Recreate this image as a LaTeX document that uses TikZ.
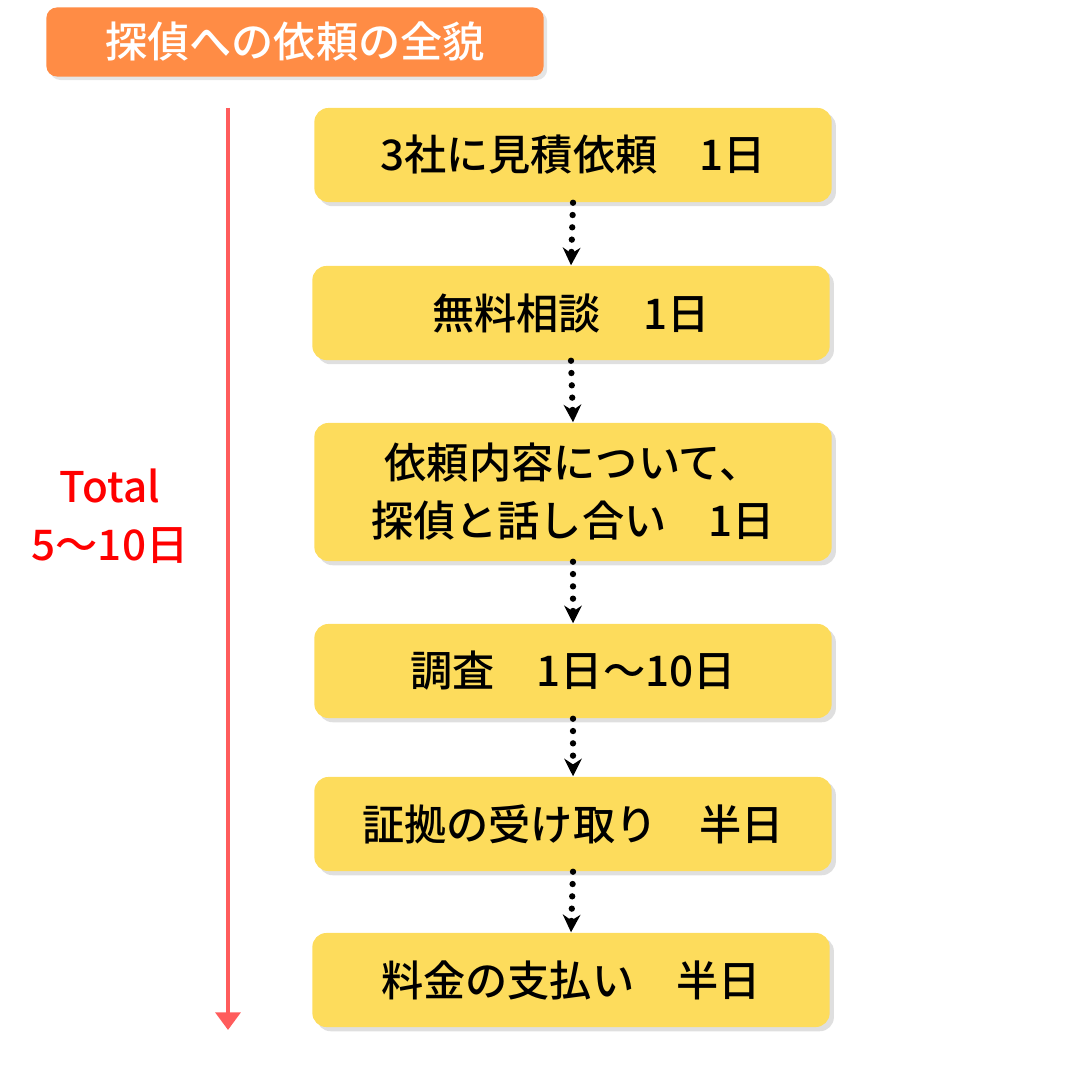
\documentclass[tikz,border=0pt]{standalone}
\usepackage{fontspec}
\setmainfont{Noto Sans CJK JP}[BoldFont={Noto Sans CJK JP Medium}]
\usetikzlibrary{
    arrows.meta,
    positioning,
    shadows
}
\definecolor{boxyellow}{HTML}{FDDC5C}
\definecolor{titleorange}{HTML}{FF8C45}
\definecolor{lineRed}{HTML}{FF5C5C}

\begin{document}
\begin{tikzpicture}[
    x=0.01cm, y=-0.01cm,
    stepbox/.style   = {rectangle, rounded corners=4pt, fill=boxyellow,
                        minimum width=5.17cm, minimum height=0.94cm,
                        font=\fontsize{12}{16.5}\selectfont\bfseries, align=center,
                        drop shadow={shadow xshift=1.2pt, shadow yshift=-1.2pt,
                                     fill=black!25}},
    titlebox/.style  = {rectangle, rounded corners=3pt, fill=titleorange,
                        text=white, minimum width=4.97cm, minimum height=0.69cm,
                        font=\fontsize{12}{14}\selectfont\bfseries,
                        drop shadow={shadow xshift=1pt, shadow yshift=-1pt,
                                     fill=black!20}},
    dotarrow/.style  = {-{Stealth[length=5pt,width=5pt]}, line width=1.8pt,
                        dash pattern=on 0pt off 3.5pt, line cap=round},
]
    \useasboundingbox (0,0) rectangle (1080,1080);

    %Nodes
    \node[titlebox]  (title)  at (295,42)  {探偵への依頼の全貌};
    \node[stepbox]   (quote)  at (573,155) {3社に見積依頼　1日};
    \node[stepbox]   (consult) at (571,313) {無料相談　1日};
    \node[stepbox, minimum height=1.38cm] (talk) at (573,492)
        {依頼内容について、\\探偵と話し合い　1日};
    \node[stepbox]   (survey) at (573,671) {調査　1日〜10日};
    \node[stepbox]   (proof)  at (573,824) {証拠の受け取り　半日};
    \node[stepbox]   (pay)    at (571,980) {料金の支払い　半日};
    \node[text=red, font=\fontsize{12}{16.5}\selectfont\bfseries, align=center]
        (total) at (110,516) {Total\\5〜10日};

    %Lines
    \coordinate (start) at (228,108);
    \coordinate (finish) at (228,1030);
    \draw[lineRed, line width=1.2pt, -{Triangle[length=5pt,width=7pt]}]
        (start) -- (finish);
    \draw[dotarrow] (quote.south) -- (consult.north);
    \draw[dotarrow] (consult.south) -- (talk.north);
    \draw[dotarrow] (talk.south) -- (survey.north);
    \draw[dotarrow] (survey.south) -- (proof.north);
    \draw[dotarrow] (proof.south) -- (pay.north);
\end{tikzpicture}
\end{document}
